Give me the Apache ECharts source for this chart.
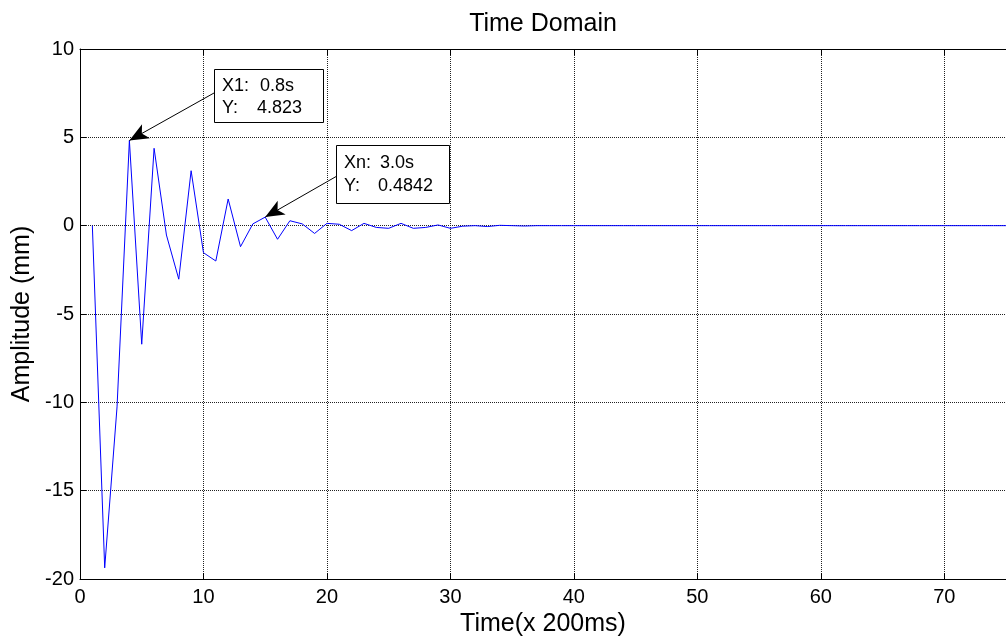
<!DOCTYPE html>
<html>
<head>
<meta charset="utf-8">
<script src="https://cdn.jsdelivr.net/npm/echarts@6/dist/echarts.min.js"></script>
<style>html,body{margin:0;padding:0;background:#fff;}#c{width:1006px;height:644px;}</style>
</head>
<body>
<div id="c"></div>
<script>
// Sample index (x 200 ms)
const timeIdx = [1,2,3,4,5,6,7,8,9,10,11,12,13,14,15,16,17,18,19,20,21,22,23,24,25,26,27,28,29,30,31,32,33,34,35,36,37,38,39,40,41,42,43,44,45,46,47,48,49,50,51,52,53,54,55,56,57,58,59,60,61,62,63,64,65,66,67,68,69,70,71,72,73,74,75,76,77,78,79,80];
// Amplitude (mm)
const amplitude = [0,-19.37,-10.26,4.823,-6.71,4.38,-0.53,-3.03,3.11,-1.53,-2.0,1.51,-1.19,0.1,0.4842,-0.77,0.28,0.1,-0.44,0.13,0.08,-0.28,0.13,-0.1,-0.15,0.13,-0.15,-0.1,0.04,-0.15,-0.03,0,-0.05,0.02,0,-0.02,0,0,0,0,0,0,0,0,0,0,0,0,0,0,0,0,0,0,0,0,0,0,0,0,0,0,0,0,0,0,0,0,0,0,0,0,0,0,0,0,0,0,0,0];
const xTicksMin = 0, xTicksMax = 75, xInterval = 10;
const yMin = -20, yMax = 10, yInterval = 5;
const annotations = [
  {name: 'X1', x: 4, y: 4.823, l1a: 'X1:', l1b: '0.8s', l2a: 'Y:', l2b: '4.823'},
  {name: 'Xn', x: 15, y: 0.4842, l1a: 'Xn:', l1b: '3.0s', l2a: 'Y:', l2b: '0.4842'}
];
const titleText = 'Time Domain';
const xName = 'Time(x 200ms)';
const yName = 'Amplitude (mm)';

const FONT = 'Liberation Sans, Arial, sans-serif';
const chart = echarts.init(document.getElementById('c'), null, {renderer: 'canvas'});
const seriesData = timeIdx.map((t, i) => [t, amplitude[i]]);

// box layouts (pixels)
const boxes = [
  {x: 214, y: 69, w: 109, h: 53, ax: 214, ay: 93, t1y: 86, t2y: 108, ta: 222, tb1: 260, tb2: 257},
  {x: 336, y: 145, w: 113, h: 58, ax: 337, ay: 176, t1y: 163, t2y: 186, ta: 344, tb1: 380, tb2: 378}
];

const graphics = [];
boxes.forEach((b, i) => {
  const a = annotations[i];
  graphics.push({type: 'rect', shape: {x: b.x + 0.5, y: b.y + 0.5, width: b.w, height: b.h}, style: {fill: '#fff', stroke: '#000', lineWidth: 1}, z: 100});
  [[b.ta, b.t1y, a.l1a], [b.tb1, b.t1y, a.l1b], [b.ta, b.t2y, a.l2a], [b.tb2, b.t2y, a.l2b]].forEach(([tx, ty, s]) => {
    graphics.push({type: 'text', x: tx, y: ty, style: {text: s, font: '18px ' + FONT, fill: '#000', textVerticalAlign: 'middle', verticalAlign: 'middle'}, z: 101});
  });
});

const option = {
  animation: false,
  backgroundColor: '#fff',
  grid: {left: 80, top: 49, bottom: 65, right: -7, containLabel: false},
  xAxis: [{
    type: 'value', min: xTicksMin, max: xTicksMax, interval: xInterval,
    position: 'bottom',
    name: xName, nameLocation: 'middle', nameGap: 25,
    nameTextStyle: {fontFamily: FONT, fontSize: 25, color: '#000', verticalAlign: 'top'},
    axisLine: {show: true, onZero: false, lineStyle: {color: '#000', width: 1}},
    axisTick: {show: true, inside: true, length: 6, lineStyle: {color: '#000'}},
    axisLabel: {fontFamily: FONT, fontSize: 20, color: '#000', margin: 8, showMaxLabel: false},
    splitLine: {show: true, lineStyle: {color: '#222', type: [1, 1], width: 1}}
  }, {
    type: 'value', min: xTicksMin, max: xTicksMax, interval: xInterval,
    position: 'top',
    name: titleText, nameLocation: 'middle', nameGap: 12,
    nameTextStyle: {fontFamily: FONT, fontSize: 25, color: '#000'},
    axisLine: {show: true, onZero: false, lineStyle: {color: '#000', width: 1}},
    axisTick: {show: true, inside: true, length: 6, lineStyle: {color: '#000'}},
    axisLabel: {show: false},
    splitLine: {show: false}
  }],
  yAxis: [{
    type: 'value', min: yMin, max: yMax, interval: yInterval,
    name: yName, nameLocation: 'middle', nameGap: 45,
    nameTextStyle: {fontFamily: FONT, fontSize: 25, color: '#000'},
    axisLine: {show: true, onZero: false, lineStyle: {color: '#000', width: 1}},
    axisTick: {show: true, inside: true, length: 6, lineStyle: {color: '#000'}},
    axisLabel: {fontFamily: FONT, fontSize: 20, color: '#000', margin: 6},
    splitLine: {show: true, lineStyle: {color: '#222', type: [1, 1], width: 1}}
  }],
  series: [{
    type: 'line',
    data: seriesData,
    showSymbol: false,
    symbol: 'none',
    lineStyle: {color: '#0000ff', width: 1},
    z: 3,
    markLine: {
      silent: true,
      animation: false,
      symbol: ['none', 'arrow'],
      symbolSize: [12, 19],
      label: {show: false},
      lineStyle: {color: '#000', width: 1, type: 'solid'},
      data: annotations.map((a, i) => [
        {x: boxes[i].ax, y: boxes[i].ay},
        {coord: [a.x, a.y]}
      ])
    }
  }],
  graphic: graphics
};
chart.setOption(option);
</script>
</body>
</html>
